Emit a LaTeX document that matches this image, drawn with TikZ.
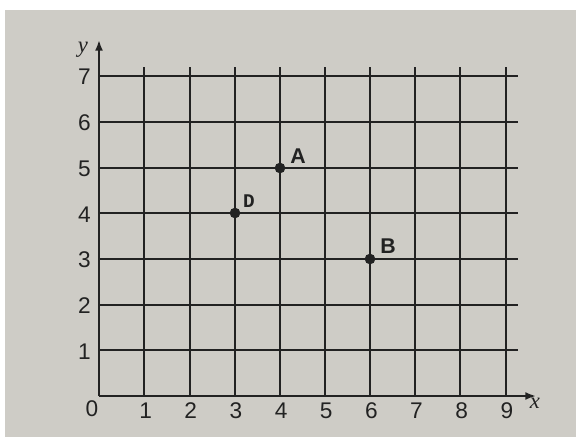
\documentclass[tikz,border=0pt]{standalone}
\usepackage{fontspec}
\setmainfont{Liberation Sans}
\newfontfamily\serifit{Liberation Serif}
\newfontfamily\monofnt{Liberation Mono}
\usetikzlibrary{arrows.meta}
\definecolor{paper}{HTML}{CECCC6}
\definecolor{ink}{HTML}{222222}
\begin{document}
\begin{tikzpicture}[x=0.75pt,y=-0.75pt,
  gridline/.style={line width=1.4pt, draw=ink},
  axisline/.style={line width=1.5pt, draw=ink, -{Latex[length=8pt,width=6pt]}},
  num/.style={text=ink, font=\fontsize{17}{19}\selectfont, inner sep=0pt},
  axlabel/.style={text=ink, font=\serifit\itshape\fontsize{17}{19}\selectfont, inner sep=0pt},
  dot/.style={circle, fill=ink, inner sep=0pt, minimum size=8pt},
  ptlabel/.style={text=ink, font=\bfseries\fontsize{16}{18}\selectfont, inner sep=0pt},
  dlabel/.style={text=ink, font=\monofnt\bfseries\fontsize{14.5}{16}\selectfont, inner sep=0pt}]
\fill[white] (0,0) rectangle (576,437);
\fill[paper] (5,10) rectangle (576,437);
\useasboundingbox (0,0) rectangle (576,437);
\def\ux{45.15}
\def\uy{45.7}
\coordinate (O) at (99,396);
% vertical grid lines
\foreach \i in {1,...,9} {
  \coordinate (vb\i) at ({round(99.3+\i*\ux)},396);
  \coordinate (vt\i) at ({round(99.3+\i*\ux)},67);
  \draw[gridline] (vb\i) -- (vt\i);
  \node[num] (xn\i) at (100.5+\i*\ux,411) {\i};
}
% horizontal grid lines
\foreach \j in {1,...,7} {
  \coordinate (hl\j) at (99,{round(396-\j*\uy)});
  \coordinate (hr\j) at (518,{round(396-\j*\uy)});
  \draw[gridline] (hl\j) -- (hr\j);
  \node[num] (yn\j) at (84.5,397-\j*\uy) {\j};
}
% axes
\coordinate (xend) at (536,396);
\coordinate (yend) at (99,40);
\draw[axisline] (O) -- (xend);
\draw[axisline] (O) -- (yend);
\node[num] (zero) at (92,409) {0};
\node[axlabel] (xlab) at (535,403) {x};
\node[axlabel] (ylab) at (83,50) {y};
% points
\node[dot] (A) at ({round(99.3+4*\ux)},{round(396-5*\uy)}) {};
\node[dot] (D) at ({round(99.3+3*\ux)},{round(396-4*\uy)}) {};
\node[dot] (B) at ({round(99.3+6*\ux)},{round(396-3*\uy)}) {};
\node[ptlabel] (lA) at ([shift={(18,-12)}]A) {A};
\node[dlabel] (lD) at ([shift={(14,-12)}]D) {D};
\node[ptlabel] (lB) at ([shift={(18,-13)}]B) {B};
\end{tikzpicture}
\end{document}
